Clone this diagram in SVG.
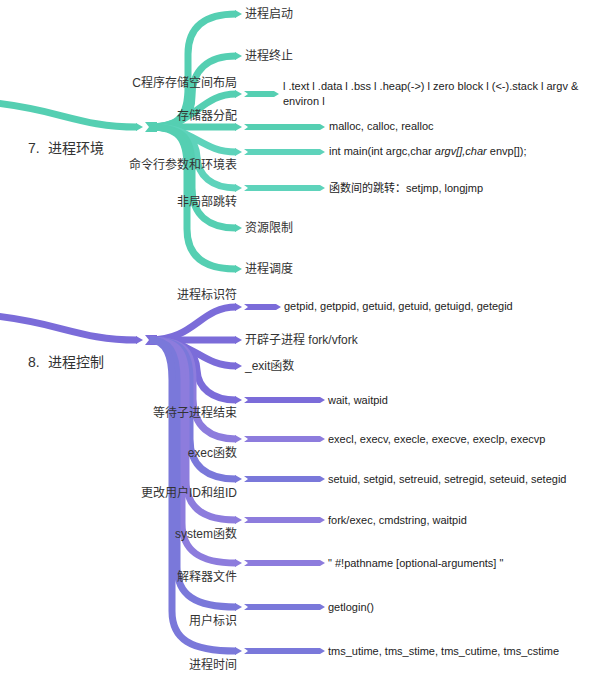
<svg xmlns="http://www.w3.org/2000/svg" width="613" height="673" viewBox="0 0 613 673">
<style>
.t{fill:none;stroke:#55cfb2;stroke-width:7}
.tf{fill:#55cfb2}
.t2{fill:none;stroke:#5ed3bb;stroke-width:7}
.t2f{fill:#5ed3bb}
.p{fill:none;stroke:#7b6cd9;stroke-width:7}
.pf{fill:#7b6cd9}
.p2{fill:none;stroke:#8d7cdd;stroke-width:7}
.p2f{fill:#8d7cdd}
.p3{fill:none;stroke:#7a78da;stroke-width:7}
.p3f{fill:#7a78da}
text{font-family:"Liberation Sans","Noto Sans CJK SC",sans-serif;fill:#333}
.lbl{font-size:12px;text-anchor:end}
.leaf{font-size:12px}
.det{font-size:11px;fill:#222}
.main{font-size:14px}
</style>
<rect width="613" height="673" fill="#ffffff"/>
<g id="connectors">
  <path class="t" d="M -5 103 C 60 110 80 127 137 127"/>
  <polygon class="tf" points="136,123 143,127 136,131"/>
  <polygon class="tf" points="145,122 157,122 157,132 145,132 149,127"/>
  <path class="t" d="M 150 127 C 180 127 188 115 188 87 L 188 54 C 188 26 206 14 236 14"/>
  <path class="t" d="M 150 127 C 184 127 192 115 192 96 C 192 70 208 56 236 56"/>
  <path class="t" d="M 150 127 C 195 127 200 94 236 94"/>
  <path class="t" d="M 150 127 L 236 127"/>
  <path class="t2" d="M 150 127 C 195 127 200 152 236 152"/>
  <path class="t2" d="M 150 127 C 190 127 196 142 197 157 C 198 176 212 188 236 188"/>
  <path class="t" d="M 150 127 C 184 127 192 139 192 167 L 192 188 C 192 216 210 228 236 228"/>
  <path class="t" d="M 150 127 C 179 127 187 139 187 167 L 187 229 C 187 257 205 269 236 269"/>
  <polygon class="tf" points="235,10 242,14 235,18"/>
  <polygon class="tf" points="235,52 242,56 235,60"/>
  <polygon class="tf" points="235,90 242,94 235,98"/>
  <polygon class="tf" points="235,123 242,127 235,131"/>
  <polygon class="t2f" points="235,148 242,152 235,156"/>
  <polygon class="t2f" points="235,184 242,188 235,192"/>
  <polygon class="tf" points="235,224 242,228 235,232"/>
  <polygon class="tf" points="235,265 242,269 235,273"/>
  <polygon class="tf" points="244,91 274,91 279,94 274,97 244,97 248,94"/>
  <polygon class="tf" points="244,124 320,124 325,127 320,130 244,130 248,127"/>
  <polygon class="t2f" points="244,149 320,149 325,152 320,155 244,155 248,152"/>
  <polygon class="t2f" points="244,185 320,185 325,188 320,191 244,191 248,188"/>
  <path class="p" d="M -5 316 C 60 323 80 340 137 340"/>
  <polygon class="pf" points="136,336 143,340 136,344"/>
  <polygon class="pf" points="145,335 157,335 157,345 145,345 149,340"/>
  <path class="p" d="M 150 340 C 195 340 200 307 236 307"/>
  <path class="p" d="M 150 340 L 236 340"/>
  <path class="p" d="M 150 340 C 195 340 200 366 236 366"/>
  <path class="p" d="M 150 340 C 190 340 196 355 197 370 C 198 388 212 400 236 400"/>
  <path class="p2" d="M 150 340 C 185 340 193 352 193 380 L 193 399 C 193 427 211 439 236 439"/>
  <path class="p3" d="M 150 340 C 182 340 190 352 190 380 L 190 439 C 190 467 208 479 236 479"/>
  <path class="p2" d="M 150 340 C 178 340 186 352 186 380 L 186 480 C 186 508 204 520 236 520"/>
  <path class="p2" d="M 150 340 C 174 340 182 352 182 380 L 182 523 C 182 551 200 563 236 563"/>
  <path class="p3" d="M 150 340 C 169 340 177 352 177 380 L 177 567 C 177 595 195 607 236 607"/>
  <path class="p3" d="M 150 340 C 164 340 172 352 172 380 L 172 611 C 172 639 190 651 236 651"/>
  <polygon class="pf" points="235,303 242,307 235,311"/>
  <polygon class="pf" points="235,336 242,340 235,344"/>
  <polygon class="pf" points="235,362 242,366 235,370"/>
  <polygon class="pf" points="235,396 242,400 235,404"/>
  <polygon class="p2f" points="235,435 242,439 235,443"/>
  <polygon class="p3f" points="235,475 242,479 235,483"/>
  <polygon class="p2f" points="235,516 242,520 235,524"/>
  <polygon class="p2f" points="235,559 242,563 235,567"/>
  <polygon class="p3f" points="235,603 242,607 235,611"/>
  <polygon class="p3f" points="235,647 242,651 235,655"/>
  <polygon class="pf" points="244,304 276,304 281,307 276,310 244,310 248,307"/>
  <polygon class="pf" points="244,397 320,397 325,400 320,403 244,403 248,400"/>
  <polygon class="p2f" points="244,436 320,436 325,439 320,442 244,442 248,439"/>
  <polygon class="p3f" points="244,476 320,476 325,479 320,482 244,482 248,479"/>
  <polygon class="p2f" points="244,517 320,517 325,520 320,523 244,523 248,520"/>
  <polygon class="p2f" points="244,560 320,560 325,563 320,566 244,566 248,563"/>
  <polygon class="p3f" points="244,604 320,604 325,607 320,610 244,610 248,607"/>
  <polygon class="p3f" points="244,648 320,648 325,651 320,654 244,654 248,651"/>
</g>
<g id="n7"><text class="main" x="28" y="153">7.<tspan x="48">进程环境</tspan></text></g>
<g id="n7-start"><text class="leaf" x="245" y="18">进程启动</text></g>
<g id="n7-end"><text class="leaf" x="245" y="60">进程终止</text></g>
<g id="n7-layout"><text class="lbl" x="237" y="87">C程序存储空间布局</text></g>
<g id="n7-layout-d"><text class="det" x="283" y="90">l .text l .data l .bss l .heap(-&gt;) l zero block l (&lt;-).stack l argv &amp;</text><text class="det" x="283" y="105">environ l</text></g>
<g id="n7-alloc"><text class="lbl" x="237" y="120">存储器分配</text></g>
<g id="n7-alloc-d"><text class="det" x="329" y="130">malloc, calloc, realloc</text></g>
<g id="n7-args"><text class="lbl" x="237" y="169">命令行参数和环境表</text></g>
<g id="n7-args-d"><text class="det" x="329" y="155">int main(int argc,char <tspan font-style="italic">argv[],char</tspan> envp[]);</text></g>
<g id="n7-jump"><text class="lbl" x="237" y="206">非局部跳转</text></g>
<g id="n7-jump-d"><text class="det" x="329" y="192">函数间的跳转：setjmp, longjmp</text></g>
<g id="n7-limit"><text class="leaf" x="245" y="232">资源限制</text></g>
<g id="n7-sched"><text class="leaf" x="245" y="273">进程调度</text></g>
<g id="n8"><text class="main" x="28" y="367">8.<tspan x="48">进程控制</tspan></text></g>
<g id="n8-id"><text class="lbl" x="237" y="299">进程标识符</text></g>
<g id="n8-id-d"><text class="det" x="284" y="310">getpid, getppid, getuid, getuid, getuigd, getegid</text></g>
<g id="n8-fork"><text class="leaf" x="245" y="344">开辟子进程 fork/vfork</text></g>
<g id="n8-exit"><text class="leaf" x="245" y="370">_exit函数</text></g>
<g id="n8-wait"><text class="lbl" x="237" y="417">等待子进程结束</text></g>
<g id="n8-wait-d"><text class="det" x="328" y="404">wait, waitpid</text></g>
<g id="n8-exec"><text class="lbl" x="237" y="457">exec函数</text></g>
<g id="n8-exec-d"><text class="det" x="328" y="443">execl, execv, execle, execve, execlp, execvp</text></g>
<g id="n8-uid"><text class="lbl" x="237" y="497">更改用户ID和组ID</text></g>
<g id="n8-uid-d"><text class="det" x="328" y="483">setuid, setgid, setreuid, setregid, seteuid, setegid</text></g>
<g id="n8-system"><text class="lbl" x="237" y="538">system函数</text></g>
<g id="n8-system-d"><text class="det" x="328" y="524">fork/exec, cmdstring, waitpid</text></g>
<g id="n8-interp"><text class="lbl" x="237" y="581">解释器文件</text></g>
<g id="n8-interp-d"><text class="det" x="328" y="567">" #!pathname [optional-arguments] "</text></g>
<g id="n8-user"><text class="lbl" x="237" y="625">用户标识</text></g>
<g id="n8-user-d"><text class="det" x="328" y="611">getlogin()</text></g>
<g id="n8-time"><text class="lbl" x="237" y="669">进程时间</text></g>
<g id="n8-time-d"><text class="det" x="328" y="655">tms_utime, tms_stime, tms_cutime, tms_cstime</text></g>
</svg>
